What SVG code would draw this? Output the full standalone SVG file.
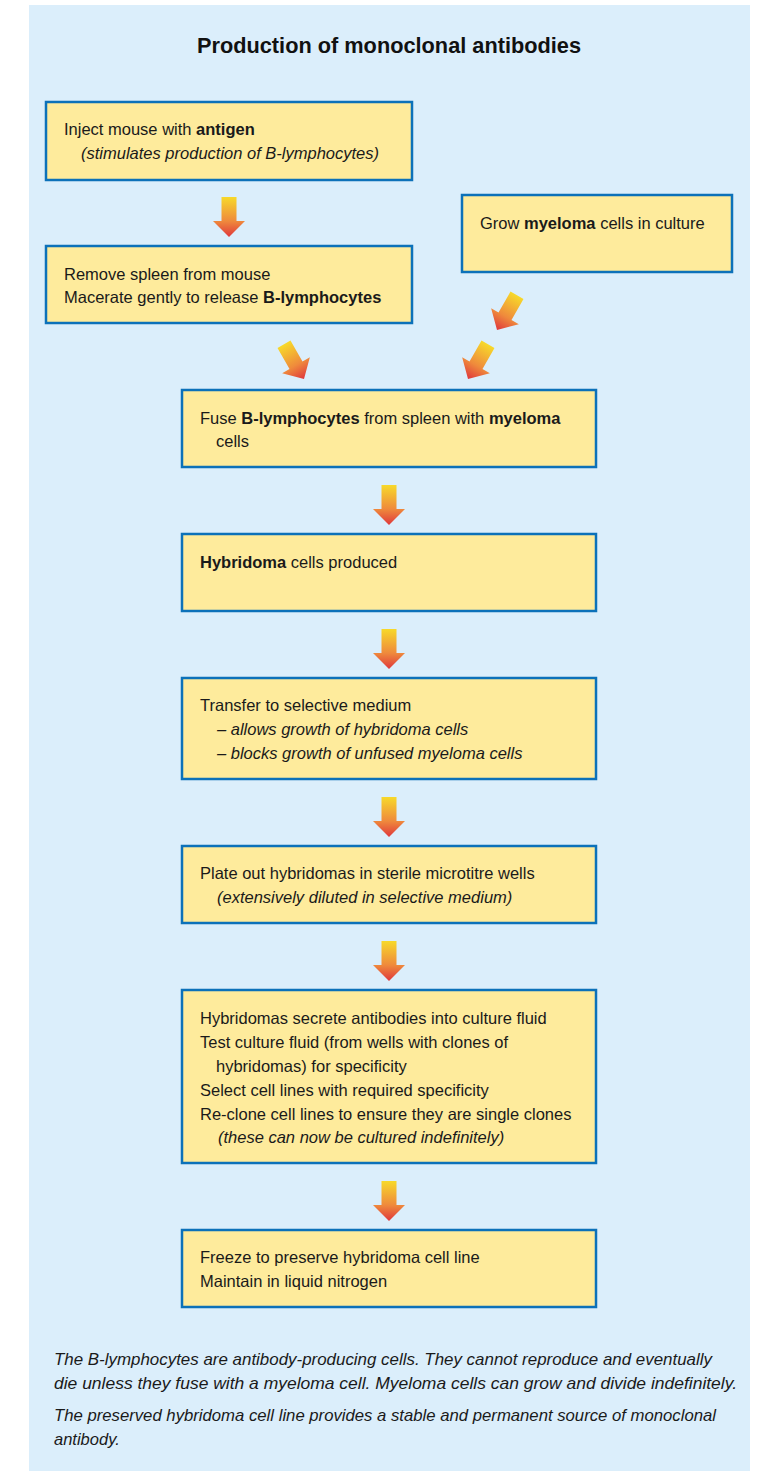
<svg xmlns="http://www.w3.org/2000/svg" xmlns:xlink="http://www.w3.org/1999/xlink" width="766" height="1471" viewBox="0 0 766 1471">
<style>
.box{fill:#feeb9c;stroke:#0c71b9;stroke-width:2.5}
.t{font-family:"Liberation Sans",Arial,sans-serif;font-size:16.5px;fill:#1a1a1a}
.b{font-weight:bold}
.i{font-style:italic}
.title{font-family:"Liberation Sans",Arial,sans-serif;font-size:21.5px;font-weight:bold;fill:#111}
</style>
<defs>
<linearGradient id="ag" x1="0" y1="0" x2="0" y2="1">
<stop offset="0" stop-color="#f7d92a"/>
<stop offset="0.6" stop-color="#ef8a3c"/>
<stop offset="1" stop-color="#df373c"/>
</linearGradient>
<path id="arr" d="M-7.5,-40 L7.5,-40 L7.5,-16 L16,-16 L0,0 L-16,-16 L-7.5,-16 Z" fill="url(#ag)"/>
</defs>
<rect x="0" y="0" width="766" height="1471" fill="#ffffff"/>
<rect x="29" y="5" width="721" height="1466" fill="#dbeefb"/>
<text class="title" x="197" y="53" textLength="384" lengthAdjust="spacingAndGlyphs">Production of monoclonal antibodies</text>

<g id="connectors">
<use xlink:href="#arr" transform="translate(229,237)"/>
<use xlink:href="#arr" transform="translate(304,379) rotate(-30)"/>
<use xlink:href="#arr" transform="translate(497,330) rotate(30)"/>
<use xlink:href="#arr" transform="translate(468,379) rotate(30)"/>
<use xlink:href="#arr" transform="translate(389,525)"/>
<use xlink:href="#arr" transform="translate(389,669)"/>
<use xlink:href="#arr" transform="translate(389,837)"/>
<use xlink:href="#arr" transform="translate(389,981)"/>
<use xlink:href="#arr" transform="translate(389,1221)"/>
</g>

<g id="inject">
<rect class="box" x="46" y="102" width="366" height="78"/>
<text class="t" x="64" y="135">Inject mouse with <tspan class="b">antigen</tspan></text>
<text class="t i" x="81" y="159">(stimulates production of B-lymphocytes)</text>
</g>

<g id="spleen">
<rect class="box" x="46" y="246" width="366" height="77"/>
<text class="t" x="64" y="280">Remove spleen from mouse</text>
<text class="t" x="64" y="303">Macerate gently to release <tspan class="b">B-lymphocytes</tspan></text>
</g>

<g id="myeloma">
<rect class="box" x="462" y="195" width="270" height="77"/>
<text class="t" x="480" y="229">Grow <tspan class="b">myeloma</tspan> cells in culture</text>
</g>

<g id="fuse">
<rect class="box" x="182" y="390" width="414" height="77"/>
<text class="t" x="200" y="424">Fuse <tspan class="b">B-lymphocytes</tspan> from spleen with <tspan class="b">myeloma</tspan></text>
<text class="t" x="216" y="447">cells</text>
</g>

<g id="hybridoma">
<rect class="box" x="182" y="534" width="414" height="77"/>
<text class="t" x="200" y="568"><tspan class="b">Hybridoma</tspan> cells produced</text>
</g>

<g id="transfer">
<rect class="box" x="182" y="678" width="414" height="101"/>
<text class="t" x="200" y="711">Transfer to selective medium</text>
<text class="t i" x="217" y="735">– allows growth of hybridoma cells</text>
<text class="t i" x="217" y="759">– blocks growth of unfused myeloma cells</text>
</g>

<g id="plate">
<rect class="box" x="182" y="846" width="414" height="77"/>
<text class="t" x="200" y="879">Plate out hybridomas in sterile microtitre wells</text>
<text class="t i" x="217" y="903">(extensively diluted in selective medium)</text>
</g>

<g id="secrete">
<rect class="box" x="182" y="990" width="414" height="173"/>
<text class="t" x="200" y="1024">Hybridomas secrete antibodies into culture fluid</text>
<text class="t" x="200" y="1048">Test culture fluid (from wells with clones of</text>
<text class="t" x="216" y="1072">hybridomas) for specificity</text>
<text class="t" x="200" y="1096">Select cell lines with required specificity</text>
<text class="t" x="200" y="1120">Re-clone cell lines to ensure they are single clones</text>
<text class="t i" x="218" y="1143">(these can now be cultured indefinitely)</text>
</g>

<g id="freeze">
<rect class="box" x="182" y="1230" width="414" height="77"/>
<text class="t" x="200" y="1263">Freeze to preserve hybridoma cell line</text>
<text class="t" x="200" y="1287">Maintain in liquid nitrogen</text>
</g>

<g id="notes">
<text class="t i" x="54" y="1365" textLength="658" lengthAdjust="spacingAndGlyphs">The B-lymphocytes are antibody-producing cells. They cannot reproduce and eventually</text>
<text class="t i" x="54" y="1389" textLength="683" lengthAdjust="spacingAndGlyphs">die unless they fuse with a myeloma cell. Myeloma cells can grow and divide indefinitely.</text>
<text class="t i" x="54" y="1421" textLength="662" lengthAdjust="spacingAndGlyphs">The preserved hybridoma cell line provides a stable and permanent source of monoclonal</text>
<text class="t i" x="54" y="1445">antibody.</text>
</g>
</svg>
